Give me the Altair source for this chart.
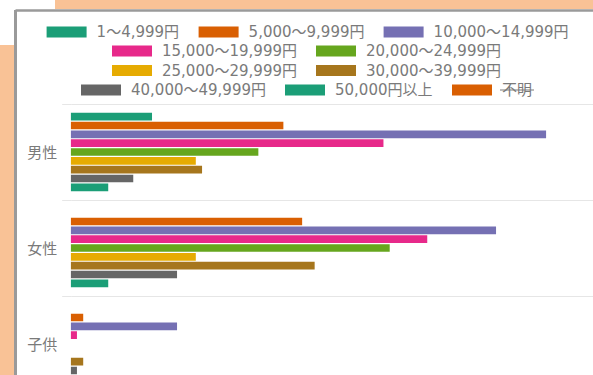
import altair as alt
import pandas as pd

# ---- data ----
categories = ["男性", "女性", "子供"]
series = ["1〜4,999円", "5,000〜9,999円", "10,000〜14,999円", "15,000〜19,999円",
          "20,000〜24,999円", "25,000〜29,999円", "30,000〜39,999円",
          "40,000〜49,999円", "50,000円以上", "不明"]
colors = ["#1b9e77", "#d95f02", "#7570b3", "#e7298a", "#66a61e",
          "#e6ab02", "#a6761d", "#666666", "#1b9e77", "#d95f02"]
visible = series[:9]          # 不明 is hidden (struck through in the legend)
male = [13, 34, 76, 50, 30, 20, 21, 10, 6]
female = [0, 37, 68, 57, 51, 20, 39, 17, 6]
child = [0, 2, 17, 1, 0, 0, 2, 1, 0]
legend_rows = [[0, 1, 2], [3, 4], [5, 6], [7, 8, 9]]

rows = []
for cat, vals in zip(categories, [male, female, child]):
    for s, v in zip(visible, vals):
        rows.append({"category": cat, "series": s, "value": v})
df = pd.DataFrame(rows)

# ---- style / layout ----
FONT = "DejaVu Sans, Noto Sans CJK JP"
TXT = "#7a7a7a"
GRID = "#e6e6e6"
PEACH = "#f9c296"
BORDER = "#9a9a9a"
LEFT, TOP = 70.7, 104
W, H = 593 - LEFT, 375 - TOP
legend_x = [46.6 - LEFT, 112 - LEFT, 112 - LEFT, 81 - LEFT]
legend_y = [32 - TOP - 20, 51 - TOP - 20, 70.5 - TOP - 20, 90 - TOP - 20]
BOX = "M-1,-0.275L1,-0.275L1,0.275L-1,0.275Z"

deco = pd.DataFrame({"k": [0]})
left_strip = alt.Chart(deco).mark_rect(color=PEACH).encode(
    x=alt.value(-LEFT - 1), x2=alt.value(14 - LEFT), y=alt.value(45 - TOP), y2=alt.value(H + 10))
top_strip = alt.Chart(deco).mark_rect(color=PEACH).encode(
    x=alt.value(55 - LEFT), x2=alt.value(W + 10), y=alt.value(-TOP - 1), y2=alt.value(9 - TOP))
left_border = alt.Chart(deco).mark_rule(color=BORDER, strokeWidth=3).encode(
    x=alt.value(15.5 - LEFT), y=alt.value(10 - TOP), y2=alt.value(H + 10))
top_border = alt.Chart(deco).mark_rule(color=BORDER, strokeWidth=2.5).encode(
    x=alt.value(15.5 - LEFT), x2=alt.value(W + 10), y=alt.value(10.5 - TOP))
strike = alt.Chart(deco).mark_rule(color=TXT, strokeWidth=1.2).encode(
    x=alt.value(500 - LEFT), x2=alt.value(534 - LEFT), y=alt.value(90 - TOP))

x_scale = alt.Scale(domain=[0, 83.5], nice=False, zero=True)
y_scale = alt.Scale(domain=categories, range=[0, 288], paddingInner=0, paddingOuter=0)
yoff_scale = alt.Scale(domain=visible, paddingInner=0.13, paddingOuter=1.0)
y_axis = alt.Axis(title=None, labelFont=FONT, labelFontSize=15, labelColor=TXT,
                  tickBand="extent", ticks=True, tickSize=9, tickColor=GRID,
                  grid=True, gridColor=GRID, domain=False, labelPadding=5)

bars = []
for i, grp in enumerate(legend_rows):
    names = [series[j] for j in grp]
    cols = [colors[j] for j in grp]
    layer = alt.Chart(df).transform_filter(
        alt.FieldOneOfPredicate(field="series", oneOf=names)
    ).mark_bar(clip=True).encode(
        x=alt.X("value:Q", scale=x_scale, axis=None),
        y=alt.Y("category:N", scale=y_scale, axis=y_axis),
        yOffset=alt.YOffset("series:N", scale=yoff_scale),
        color=alt.Color("series:N", scale=alt.Scale(domain=names, range=cols),
                        legend=alt.Legend(orient="none", legendX=legend_x[i], legendY=legend_y[i],
                                          direction="horizontal", title=None,
                                          symbolType=BOX, symbolSize=1600, symbolStrokeWidth=0,
                                          symbolOpacity=1, labelFont=FONT, labelFontSize=15,
                                          labelColor=TXT, labelOffset=10, columnPadding=19,
                                          labelLimit=400)),
    )
    bars.append(layer)

chart = alt.layer(left_strip, top_strip, left_border, top_border, strike, *bars).resolve_scale(
    color="independent"
).properties(
    width=W, height=H,
    autosize=alt.AutoSizeParams(type="none"),
    padding={"left": LEFT, "top": TOP, "right": 0, "bottom": 0},
    background="white",
).configure_view(strokeWidth=0)

chart.save("out.html", embed_options={"renderer": "svg", "actions": False})
